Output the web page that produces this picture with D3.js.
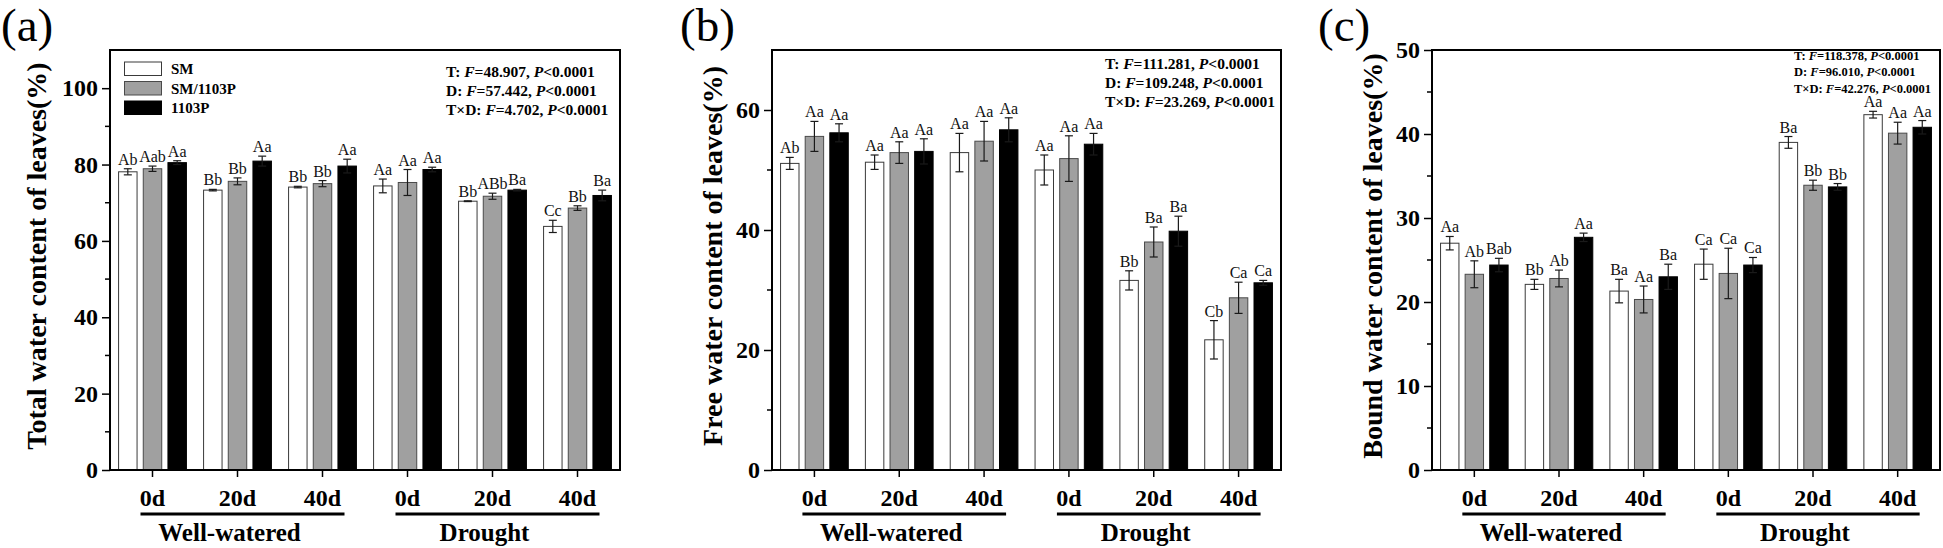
<!DOCTYPE html>
<html><head><meta charset="utf-8">
<script src="https://cdn.jsdelivr.net/npm/d3@7"></script>
<style>
html,body{margin:0;padding:0;background:#fff;}
svg text{font-family:"Liberation Serif","Times New Roman",serif;}
</style></head>
<body>
<svg id="chart" width="1943" height="548"></svg>
<script>
// ---------- data ----------
const days = ["0d","20d","40d","0d","20d","40d"];
const treatments = ["Well-watered","Drought"];
const series = ["SM","SM/1103P","1103P"];

// (a) Total water content
const totalSM     = [78.1, 73.3, 74.1, 74.4, 70.4, 63.8];
const totalSMP    = [78.9, 75.6, 75.0, 75.3, 71.7, 68.6];
const total1103P  = [80.5, 80.9, 79.6, 78.7, 73.3, 71.9];
const totalSMErr    = [0.8, 0.2, 0.2, 1.8, 0.1, 1.6];
const totalSMPErr   = [0.7, 0.9, 0.8, 3.4, 0.8, 0.6];
const total1103PErr = [0.5, 1.3, 1.8, 0.6, 0.2, 1.4];
const totalSMLab    = ["Ab","Bb","Bb","Aa","Bb","Cc"];
const totalSMPLab   = ["Aab","Bb","Bb","Aa","ABb","Bb"];
const total1103PLab = ["Aa","Aa","Aa","Aa","Ba","Ba"];
const totalStats = [["T","48.907"],["D","57.442"],["T×D","4.702"]];

// (b) Free water content
const freeSM     = [51.1, 51.3, 52.9, 50.0, 31.6, 21.7];
const freeSMP    = [55.6, 52.9, 54.8, 51.9, 38.0, 28.7];
const free1103P  = [56.2, 53.1, 56.7, 54.3, 39.8, 31.2];
const freeSMErr    = [1.0, 1.2, 3.2, 2.5, 1.6, 3.2];
const freeSMPErr   = [2.5, 1.8, 3.3, 3.8, 2.5, 2.6];
const free1103PErr = [1.5, 2.1, 2.0, 1.8, 2.5, 0.4];
const freeSMLab    = ["Ab","Aa","Aa","Aa","Bb","Cb"];
const freeSMPLab   = ["Aa","Aa","Aa","Aa","Ba","Ca"];
const free1103PLab = ["Aa","Aa","Aa","Aa","Ba","Ca"];
const freeStats = [["T","111.281"],["D","109.248"],["T×D","23.269"]];

// (c) Bound water content
const boundSM     = [27.0, 22.1, 21.3, 24.5, 39.0, 42.3];
const boundSMP    = [23.3, 22.8, 20.3, 23.4, 33.9, 40.1];
const bound1103P  = [24.4, 27.7, 23.0, 24.4, 33.7, 40.8];
const boundSMErr    = [0.8, 0.6, 1.4, 1.8, 0.7, 0.4];
const boundSMPErr   = [1.6, 1.0, 1.6, 3.0, 0.6, 1.3];
const bound1103PErr = [0.8, 0.5, 1.5, 0.9, 0.4, 0.8];
const boundSMLab    = ["Aa","Bb","Ba","Ca","Ba","Aa"];
const boundSMPLab   = ["Ab","Ab","Aa","Ca","Bb","Aa"];
const bound1103PLab = ["Bab","Aa","Ba","Ca","Bb","Aa"];
const boundStats = [["T","118.378"],["D","96.010"],["T×D","42.276"]];

const pText = "<0.0001";

// ---------- styles ----------
const fills   = ["#ffffff", "#a0a0a0", "#000000"];
const strokes = ["#3a3a3a", "#4a4a4a", "#000000"];

const svg = d3.select("#chart");

function drawPanel(cfg) {
  const top = 50, bottom = 470;
  const g = svg.append("g");
  const x = d3.scaleBand().domain(d3.range(days.length)).range([cfg.left, cfg.right]).padding(0);
  const bw = x.bandwidth();
  const xi = d3.scaleBand().domain(d3.range(series.length))
      .range([-bw * 0.405, bw * 0.405]).paddingInner(0.211).paddingOuter(0);
  const y = d3.scaleLinear().domain([0, cfg.yMax]).range([bottom, top]);

  const means = cfg.means, errs = cfg.errs, labs = cfg.labels;

  series.forEach((s, si) => {
    const rows = days.map((d, i) => ({i, v: means[si][i], e: errs[si][i], l: labs[si][i]}));
    const sg = g.append("g");
    sg.selectAll("rect").data(rows).join("rect")
      .attr("x", r => x(r.i) + bw / 2 + xi(si) + 0.5)
      .attr("y", r => y(r.v))
      .attr("width", xi.bandwidth() - 1)
      .attr("height", r => y(0) - y(r.v))
      .attr("fill", fills[si])
      .attr("stroke", strokes[si])
      .attr("stroke-width", 1);
    const cx = r => x(r.i) + bw / 2 + xi(si) + xi.bandwidth() / 2;
    const eg = sg.selectAll("g.err").data(rows).join("g").attr("class", "err")
      .attr("stroke", "#1a1a1a").attr("stroke-width", 1.2);
    eg.append("line").attr("x1", cx).attr("x2", cx)
      .attr("y1", r => y(r.v - r.e)).attr("y2", r => y(r.v + r.e));
    eg.append("line").attr("x1", r => cx(r) - 4).attr("x2", r => cx(r) + 4)
      .attr("y1", r => y(r.v + r.e)).attr("y2", r => y(r.v + r.e));
    eg.append("line").attr("x1", r => cx(r) - 4).attr("x2", r => cx(r) + 4)
      .attr("y1", r => y(r.v - r.e)).attr("y2", r => y(r.v - r.e));
    sg.selectAll("text").data(rows).join("text")
      .attr("x", cx).attr("y", r => y(r.v + r.e) - 4)
      .attr("text-anchor", "middle").attr("font-size", 16).attr("fill", "#111")
      .text(r => r.l);
  });

  // frame
  g.append("rect").attr("x", cfg.left).attr("y", top)
    .attr("width", cfg.right - cfg.left).attr("height", bottom - top)
    .attr("fill", "none").attr("stroke", "#000").attr("stroke-width", 2);

  // y axis
  const yAxis = d3.axisLeft(y).tickValues(d3.range(0, cfg.yMax + 0.001, cfg.yMajor))
    .tickSize(8).tickPadding(4).tickFormat(d3.format("d"));
  const ya = g.append("g").attr("transform", `translate(${cfg.left},0)`).call(yAxis);
  ya.select(".domain").remove();
  ya.selectAll("line").attr("stroke-width", 1.5);
  ya.selectAll("text").attr("font-size", 24).attr("font-weight", "bold")
    .attr("font-family", "Liberation Serif").attr("fill", "#000");
  const minors = d3.range(cfg.yMinor, cfg.yMax, cfg.yMajor).filter(v => v % cfg.yMajor !== 0);
  g.selectAll("line.minor").data(minors).join("line").attr("class", "minor")
    .attr("x1", cfg.left - 5).attr("x2", cfg.left)
    .attr("y1", d => y(d)).attr("y2", d => y(d))
    .attr("stroke", "#000").attr("stroke-width", 1.5);

  // x axis
  const xAxis = d3.axisBottom(x).tickSize(7).tickPadding(12).tickFormat(i => days[i]);
  const xa = g.append("g").attr("transform", `translate(0,${bottom})`).call(xAxis);
  xa.select(".domain").remove();
  xa.selectAll("line").attr("stroke-width", 1.5);
  xa.selectAll("text").attr("font-size", 24).attr("font-weight", "bold")
    .attr("font-family", "Liberation Serif").attr("fill", "#000");

  treatments.forEach((t, ti) => {
    const c0 = x(ti * 3) + bw / 2, c2 = x(ti * 3 + 2) + bw / 2;
    g.append("line").attr("x1", c0 - 12).attr("x2", c2 + 22)
      .attr("y1", 514).attr("y2", 514).attr("stroke", "#000").attr("stroke-width", 3);
    g.append("text").attr("x", x(ti * 3 + 1) + bw / 2 - 8).attr("y", 541)
      .attr("text-anchor", "middle").attr("font-size", 25).attr("font-weight", "bold")
      .text(t);
  });

  // y label
  g.append("text")
    .attr("transform", `translate(${cfg.left - cfg.ylabOff},256) rotate(-90)`)
    .attr("text-anchor", "middle").attr("dominant-baseline", "central")
    .attr("font-size", 28).attr("font-weight", "bold").text(cfg.ylabel);

  // panel letter
  g.append("text").attr("x", cfg.letterX).attr("y", 41).attr("font-size", 47).text(cfg.letter);

  // stats
  cfg.stats.forEach((st, k) => {
    const t = g.append("text").attr("x", cfg.statX).attr("y", cfg.statY + k * cfg.statStep)
      .attr("font-size", cfg.statSize).attr("font-weight", "bold");
    t.append("tspan").text(st[0] + ": ");
    t.append("tspan").attr("font-style", "italic").text("F");
    t.append("tspan").text("=" + st[1] + ", ");
    t.append("tspan").attr("font-style", "italic").text("P");
    t.append("tspan").text(pText);
  });

  if (cfg.legend) {
    series.forEach((s, si) => {
      const ly = 62 + si * 19.5;
      g.append("rect").attr("x", 124.5).attr("y", ly).attr("width", 37).attr("height", 13.5)
        .attr("fill", fills[si]).attr("stroke", strokes[si]).attr("stroke-width", 1);
      g.append("text").attr("x", 171).attr("y", ly + 12).attr("font-size", 15)
        .attr("font-weight", "bold").text(s);
    });
  }
}

drawPanel({
  left: 110, right: 620, yMax: 110, yMajor: 20, yMinor: 10,
  means: [totalSM, totalSMP, total1103P], errs: [totalSMErr, totalSMPErr, total1103PErr],
  labels: [totalSMLab, totalSMPLab, total1103PLab],
  ylabel: "Total water content of leaves(%)", ylabOff: 74,
  letter: "(a)", letterX: 1,
  stats: totalStats, statX: 446, statY: 77, statStep: 19, statSize: 15.5,
  legend: true
});
drawPanel({
  left: 772, right: 1281, yMax: 70, yMajor: 20, yMinor: 10,
  means: [freeSM, freeSMP, free1103P], errs: [freeSMErr, freeSMPErr, free1103PErr],
  labels: [freeSMLab, freeSMPLab, free1103PLab],
  ylabel: "Free water content of leaves(%)", ylabOff: 60,
  letter: "(b)", letterX: 680,
  stats: freeStats, statX: 1105, statY: 68.5, statStep: 19, statSize: 15.5,
  legend: false
});
drawPanel({
  left: 1432, right: 1940, yMax: 50, yMajor: 10, yMinor: 5,
  means: [boundSM, boundSMP, bound1103P], errs: [boundSMErr, boundSMPErr, bound1103PErr],
  labels: [boundSMLab, boundSMPLab, bound1103PLab],
  ylabel: "Bound water content of leaves(%)", ylabOff: 60,
  letter: "(c)", letterX: 1318,
  stats: boundStats, statX: 1794, statY: 60, statStep: 16.3, statSize: 12.5,
  legend: false
});
</script>
</body></html>
